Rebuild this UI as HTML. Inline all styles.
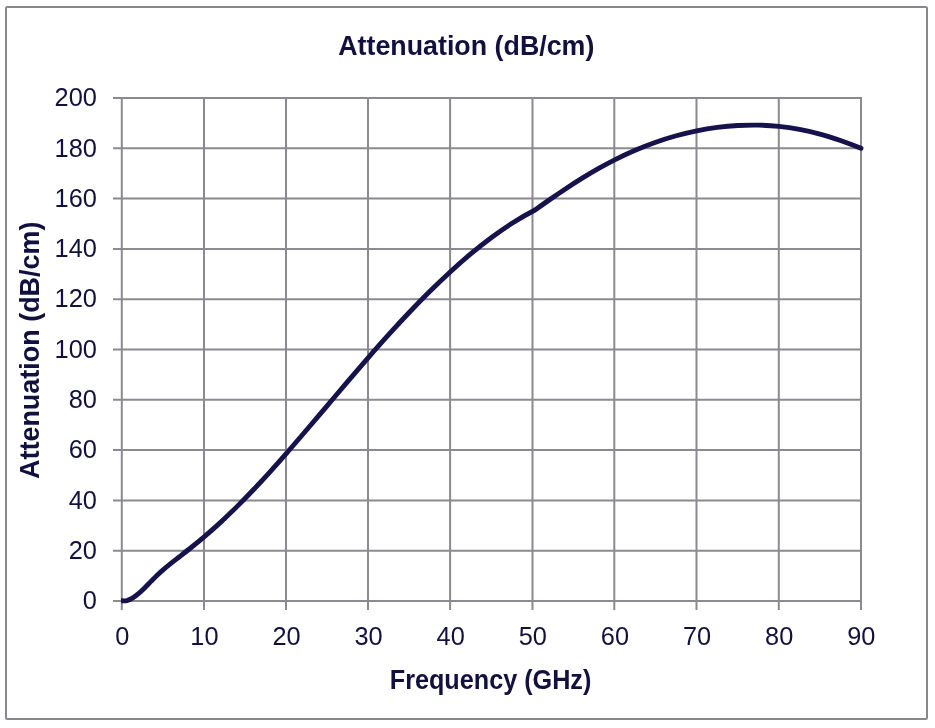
<!DOCTYPE html>
<html><head><meta charset="utf-8"><title>Attenuation (dB/cm)</title>
<style>
html,body{margin:0;padding:0;background:#fff;}
svg{display:block;will-change:transform;}
text{font-family:"Liberation Sans",sans-serif;fill:#12103e;}
.b{font-weight:bold;}
</style></head><body>
<svg width="935" height="728" viewBox="0 0 935 728">
<rect x="0" y="0" width="935" height="728" fill="#ffffff"/>
<rect x="6" y="7" width="921" height="712" rx="1.2" ry="1.2" fill="none" stroke="#87878c" stroke-width="2"/>
<g stroke="#8a8a90" stroke-width="2" fill="none">
<line x1="113" y1="601.00" x2="862" y2="601.00"/>
<line x1="113" y1="550.70" x2="862" y2="550.70"/>
<line x1="113" y1="500.40" x2="862" y2="500.40"/>
<line x1="113" y1="450.10" x2="862" y2="450.10"/>
<line x1="113" y1="399.80" x2="862" y2="399.80"/>
<line x1="113" y1="349.50" x2="862" y2="349.50"/>
<line x1="113" y1="299.20" x2="862" y2="299.20"/>
<line x1="113" y1="248.90" x2="862" y2="248.90"/>
<line x1="113" y1="198.60" x2="862" y2="198.60"/>
<line x1="113" y1="148.30" x2="862" y2="148.30"/>
<line x1="113" y1="98.00" x2="862" y2="98.00"/>
<line x1="121.80" y1="97" x2="121.80" y2="610"/>
<line x1="204.00" y1="97" x2="204.00" y2="610"/>
<line x1="286.00" y1="97" x2="286.00" y2="610"/>
<line x1="368.00" y1="97" x2="368.00" y2="610"/>
<line x1="450.10" y1="97" x2="450.10" y2="610"/>
<line x1="532.50" y1="97" x2="532.50" y2="610"/>
<line x1="614.30" y1="97" x2="614.30" y2="610"/>
<line x1="696.50" y1="97" x2="696.50" y2="610"/>
<line x1="778.80" y1="97" x2="778.80" y2="610"/>
<line x1="861.00" y1="97" x2="861.00" y2="610"/>
</g>
<clipPath id="cp"><rect x="121" y="90" width="760" height="520"/></clipPath>
<path clip-path="url(#cp)" d="M120.00,600.75 L122.00,600.75 C123.64,600.99 125.28,600.92 126.93,600.55 C128.76,600.13 130.59,599.24 132.43,598.16 C134.43,597.00 136.42,595.36 138.42,593.67 C140.47,591.94 142.53,589.91 144.58,587.89 C146.63,585.88 148.69,583.69 150.74,581.61 C152.79,579.53 154.84,577.38 156.90,575.41 C158.95,573.45 161.00,571.59 163.06,569.79 C165.79,567.40 168.53,565.23 171.27,563.05 C174.00,560.87 176.74,558.83 179.48,556.70 C183.58,553.51 187.69,550.33 191.79,547.02 C195.90,543.71 200.01,540.34 204.11,536.85 C209.59,532.20 215.06,527.39 220.53,522.36 C226.01,517.32 231.48,512.06 236.96,506.63 C242.43,501.21 247.90,495.56 253.38,489.79 C258.85,484.03 264.33,478.08 269.80,472.04 C275.27,466.00 280.75,459.81 286.22,453.57 C293.06,445.77 299.91,437.78 306.75,429.78 C313.59,421.78 320.44,413.65 327.28,405.58 C334.12,397.51 340.96,389.37 347.81,381.36 C354.65,373.35 361.49,365.34 368.33,357.52 C375.18,349.69 382.02,341.94 388.86,334.40 C395.70,326.86 402.55,319.44 409.39,312.26 C416.23,305.07 423.07,298.05 429.92,291.29 C436.76,284.53 443.60,277.97 450.44,271.70 C457.29,265.44 464.13,259.41 470.97,253.71 C477.81,248.01 484.66,242.58 491.50,237.51 C498.34,232.44 505.19,227.68 512.03,223.31 C519.69,218.43 527.36,214.00 535.02,210.04 C539.67,206.67 544.32,203.37 548.98,200.12 C554.45,196.31 559.93,192.57 565.40,188.95 C570.87,185.33 576.35,181.81 581.82,178.43 C587.30,175.05 592.77,171.79 598.24,168.69 C603.72,165.60 609.19,162.64 614.67,159.86 C621.51,156.39 628.35,153.18 635.19,150.24 C642.04,147.30 648.88,144.63 655.72,142.21 C662.56,139.80 669.41,137.65 676.25,135.75 C683.09,133.85 689.94,132.21 696.78,130.83 C703.62,129.44 710.46,128.31 717.31,127.42 C724.15,126.54 730.99,125.89 737.83,125.51 C744.68,125.13 751.52,125.00 758.36,125.14 C765.20,125.29 772.05,125.68 778.89,126.38 C785.73,127.07 792.57,128.04 799.42,129.31 C806.26,130.58 813.10,132.15 819.94,134.02 C826.79,135.88 833.63,138.12 840.47,140.50 C847.31,142.88 854.16,145.48 861.00,148.30" fill="none" stroke="#15124c" stroke-width="4.9" stroke-linecap="round" stroke-linejoin="round"/>
<text x="96.9" y="609.20" font-size="25.2" text-anchor="end" textLength="14.1" lengthAdjust="spacingAndGlyphs">0</text>
<text x="96.9" y="558.90" font-size="25.2" text-anchor="end" textLength="28.2" lengthAdjust="spacingAndGlyphs">20</text>
<text x="96.9" y="508.60" font-size="25.2" text-anchor="end" textLength="28.2" lengthAdjust="spacingAndGlyphs">40</text>
<text x="96.9" y="458.30" font-size="25.2" text-anchor="end" textLength="28.2" lengthAdjust="spacingAndGlyphs">60</text>
<text x="96.9" y="408.00" font-size="25.2" text-anchor="end" textLength="28.2" lengthAdjust="spacingAndGlyphs">80</text>
<text x="96.9" y="357.70" font-size="25.2" text-anchor="end" textLength="42.3" lengthAdjust="spacingAndGlyphs">100</text>
<text x="96.9" y="307.40" font-size="25.2" text-anchor="end" textLength="42.3" lengthAdjust="spacingAndGlyphs">120</text>
<text x="96.9" y="257.10" font-size="25.2" text-anchor="end" textLength="42.3" lengthAdjust="spacingAndGlyphs">140</text>
<text x="96.9" y="206.80" font-size="25.2" text-anchor="end" textLength="42.3" lengthAdjust="spacingAndGlyphs">160</text>
<text x="96.9" y="156.50" font-size="25.2" text-anchor="end" textLength="42.3" lengthAdjust="spacingAndGlyphs">180</text>
<text x="96.9" y="106.20" font-size="25.2" text-anchor="end" textLength="42.3" lengthAdjust="spacingAndGlyphs">200</text>
<text x="122.30" y="645.2" font-size="25.2" text-anchor="middle" textLength="14.1" lengthAdjust="spacingAndGlyphs">0</text>
<text x="204.41" y="645.2" font-size="25.2" text-anchor="middle" textLength="28.2" lengthAdjust="spacingAndGlyphs">10</text>
<text x="286.52" y="645.2" font-size="25.2" text-anchor="middle" textLength="28.2" lengthAdjust="spacingAndGlyphs">20</text>
<text x="368.63" y="645.2" font-size="25.2" text-anchor="middle" textLength="28.2" lengthAdjust="spacingAndGlyphs">30</text>
<text x="450.74" y="645.2" font-size="25.2" text-anchor="middle" textLength="28.2" lengthAdjust="spacingAndGlyphs">40</text>
<text x="532.86" y="645.2" font-size="25.2" text-anchor="middle" textLength="28.2" lengthAdjust="spacingAndGlyphs">50</text>
<text x="614.97" y="645.2" font-size="25.2" text-anchor="middle" textLength="28.2" lengthAdjust="spacingAndGlyphs">60</text>
<text x="697.08" y="645.2" font-size="25.2" text-anchor="middle" textLength="28.2" lengthAdjust="spacingAndGlyphs">70</text>
<text x="779.19" y="645.2" font-size="25.2" text-anchor="middle" textLength="28.2" lengthAdjust="spacingAndGlyphs">80</text>
<text x="861.30" y="645.2" font-size="25.2" text-anchor="middle" textLength="28.2" lengthAdjust="spacingAndGlyphs">90</text>
<text class="b" x="338.2" y="54.6" font-size="27.4" textLength="256.2" lengthAdjust="spacingAndGlyphs">Attenuation (dB/cm)</text>
<text class="b" x="389.8" y="688.7" font-size="27.4" textLength="201.5" lengthAdjust="spacingAndGlyphs">Frequency (GHz)</text>
<text class="b" transform="translate(39.3,479) rotate(-90)" x="0" y="0" font-size="27.4" textLength="257.5" lengthAdjust="spacingAndGlyphs">Attenuation (dB/cm)</text>
</svg>
</body></html>
